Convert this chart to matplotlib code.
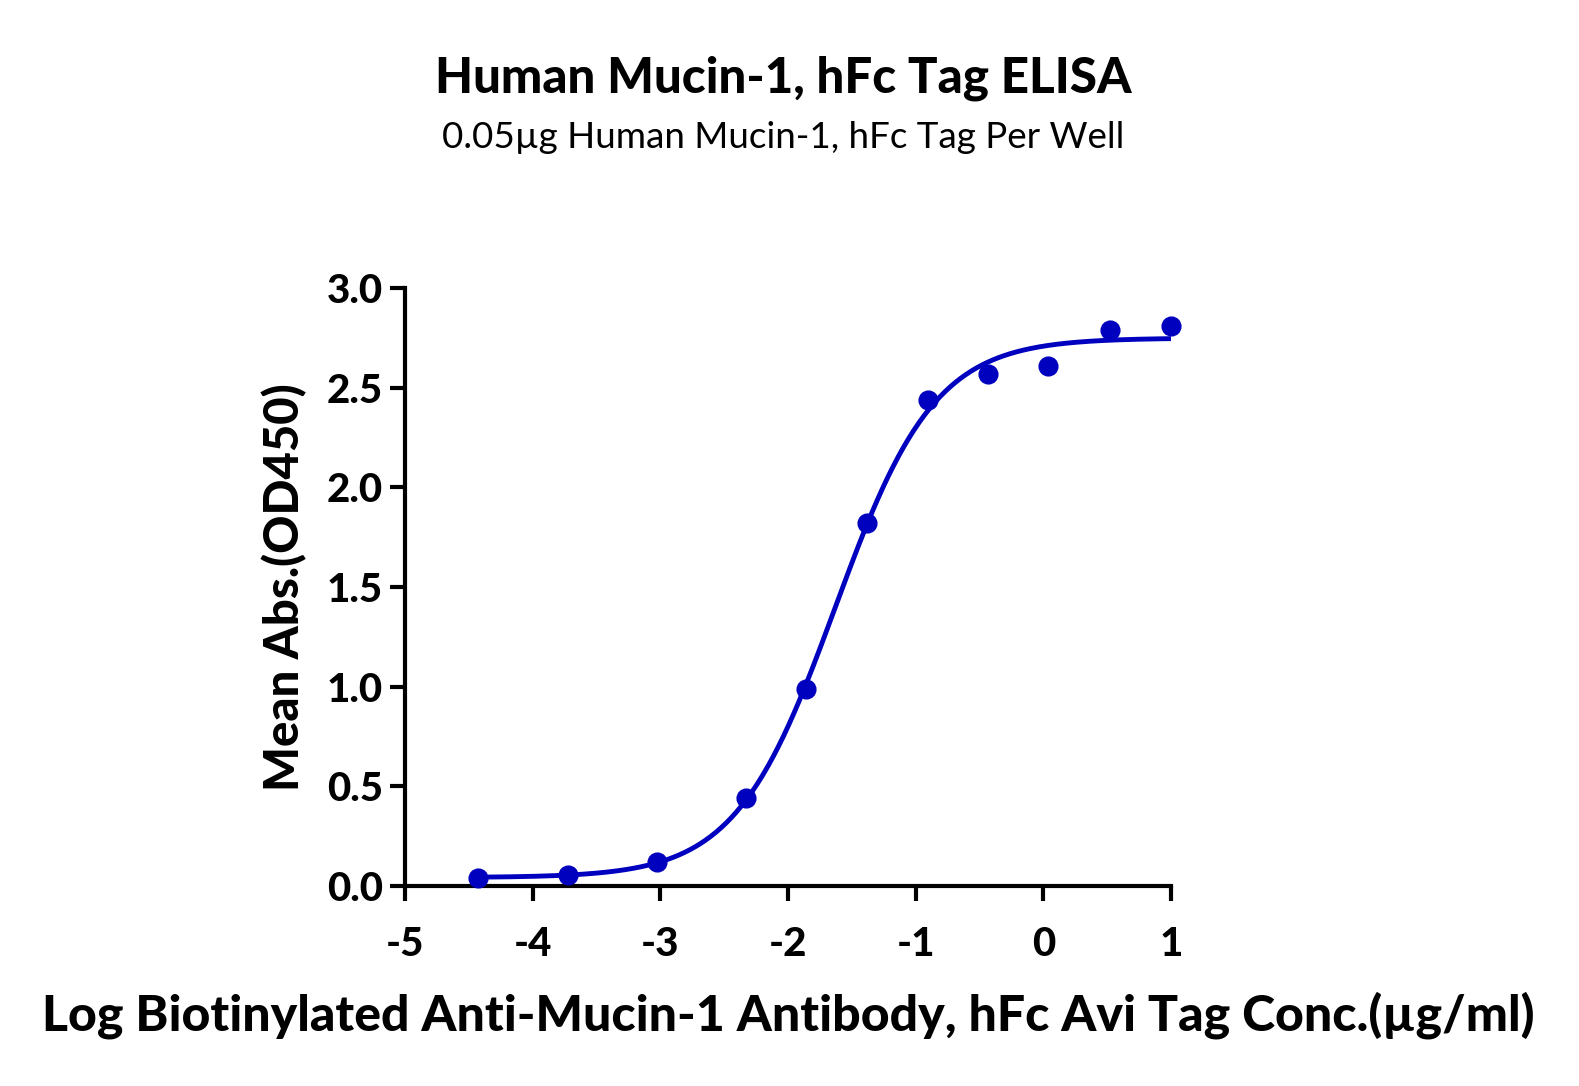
import numpy as np
import matplotlib
matplotlib.use('Agg')
from matplotlib import pyplot as plt

# values
logConc = np.array([-4.43, -3.72, -3.03, -2.33, -1.86, -1.38, -0.90, -0.43, 0.04, 0.52, 1.00])
meanAbs = np.array([0.04, 0.055, 0.12, 0.44, 0.99, 1.82, 2.44, 2.57, 2.61, 2.79, 2.81])

title = 'Human Mucin-1, hFc Tag ELISA'
subtitle = '0.05\u00b5g Human Mucin-1, hFc Tag Per Well'
xLabel = 'Log Biotinylated Anti-Mucin-1 Antibody, hFc Avi Tag Conc.(\u00b5g/ml)'
yLabel = 'Mean Abs.(OD450)'
xTicks = [-5, -4, -3, -2, -1, 0, 1]
yTicks = [0.0, 0.5, 1.0, 1.5, 2.0, 2.5, 3.0]
color = '#0000BF'


def fourPL(x, p):
    bottom, top, logEC50, hill = p
    return bottom + (top - bottom) / (1 + 10 ** ((logEC50 - x) * hill))


# fit the sigmoid to the points (simple Levenberg-Marquardt)
p = np.array([0.05, 2.75, -1.7, 1.2])
lam = 1e-3
for it in range(200):
    r = meanAbs - fourPL(logConc, p)
    J = np.zeros((len(logConc), 4))
    for k in range(4):
        dp = np.zeros(4)
        dp[k] = 1e-6
        J[:, k] = (fourPL(logConc, p + dp) - fourPL(logConc, p)) / 1e-6
    A = J.T @ J
    step = np.linalg.solve(A + lam * np.diag(np.diag(A)), J.T @ r)
    pNew = p + step
    if np.sum((meanAbs - fourPL(logConc, pNew)) ** 2) < np.sum(r ** 2):
        p = pNew
        lam *= 0.5
    else:
        lam *= 4

xFit = np.linspace(logConc.min(), logConc.max(), 400)
yFit = fourPL(xFit, p)

plt.rcParams['font.family'] = ['Lato', 'DejaVu Sans']
heavy = 'black'

fig = plt.figure(figsize=(15.79, 10.86), dpi=100)
ax = fig.add_axes([405 / 1579, 1 - 886 / 1086, 766 / 1579, 598 / 1086])

ax.plot(xFit, yFit, color=color, lw=3.5, zorder=2)
ax.plot(logConc, meanAbs, 'o', color=color, ms=13.5, zorder=3, clip_on=False)

ax.set_xlim(-5, 1)
ax.set_ylim(0, 3)
ax.set_xticks(xTicks)
ax.set_yticks(yTicks)
ax.set_xticklabels([str(t) for t in xTicks])
ax.set_yticklabels(['{:.1f}'.format(t) for t in yTicks])

for s in ['top', 'right']:
    ax.spines[s].set_visible(False)
for s in ['left', 'bottom']:
    ax.spines[s].set_linewidth(3)
ax.tick_params(direction='out', length=11, width=3, labelsize=29)
ax.tick_params(axis='x', pad=18)
ax.tick_params(axis='y', pad=5)
for lbl in ax.get_xticklabels() + ax.get_yticklabels():
    lbl.set_fontweight(heavy)

ax.set_xlabel(xLabel, fontsize=36, fontweight=heavy, labelpad=20)
ax.set_ylabel(yLabel, fontsize=34, fontweight=heavy, labelpad=14)

fig.text(0.496, 1 - 78 / 1086, title, ha='center', va='center', fontsize=35.5, fontweight=heavy)
fig.text(0.496, 1 - 137 / 1086, subtitle, ha='center', va='center', fontsize=26.5)

plt.savefig('out.png', dpi=100)
